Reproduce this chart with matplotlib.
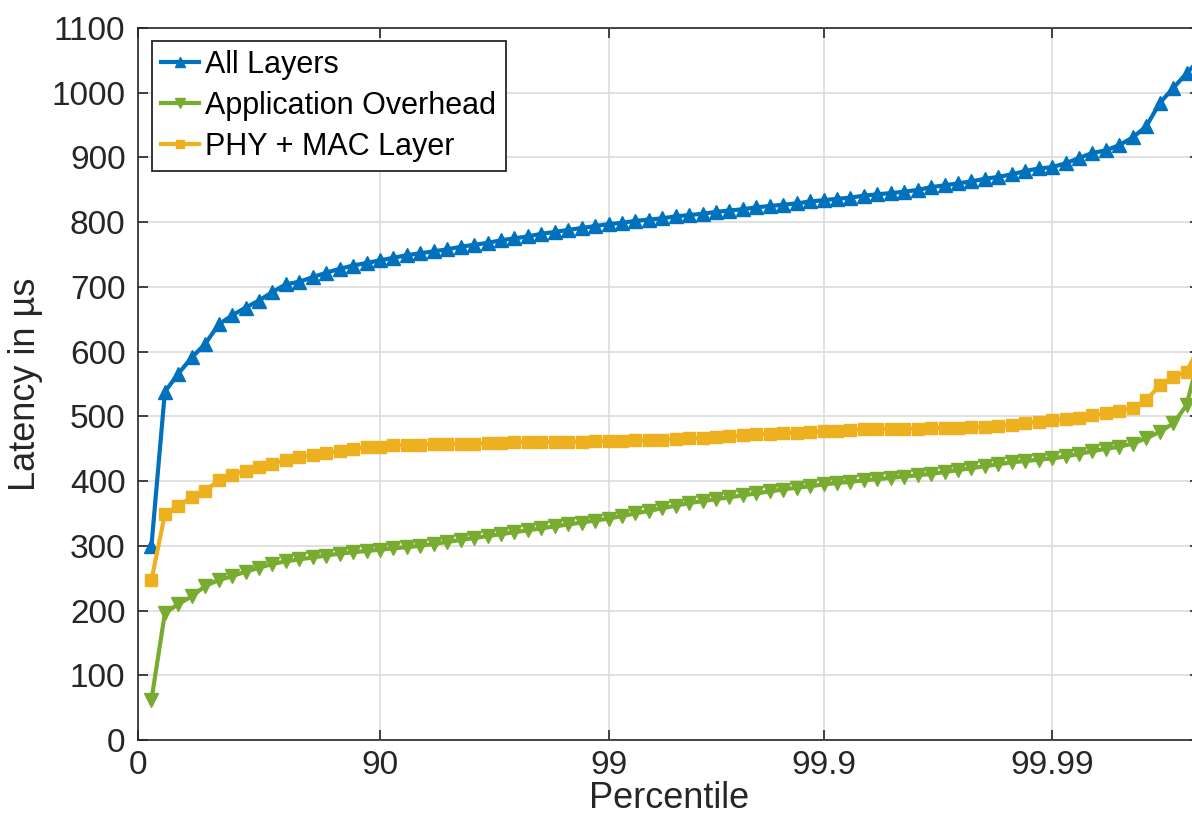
import numpy as np
import matplotlib
matplotlib.use("Agg")
import matplotlib.pyplot as plt

# sample index (one point per percentile step) and the percentile tick labels
idx = np.arange(1, 80)
tick_idx = [0, 18, 35, 51, 68]
tick_labels = ["0", "90", "99", "99.9", "99.99"]

all_layers = [300, 538, 566, 591, 612, 642, 656, 668, 679, 692, 704, 708, 715, 722, 728, 733,
              737, 741, 745, 749, 752, 755, 758, 762, 765, 768, 772, 775, 778, 782, 785, 788,
              791, 794, 797, 799, 802, 804, 806, 809, 811, 813, 816, 818, 820, 823, 825, 827,
              829, 832, 834, 836, 838, 841, 843, 845, 847, 850, 854, 857, 860, 863, 867, 870,
              874, 879, 883, 885, 891, 899, 907, 911, 919, 931, 948, 984, 1007, 1030, 1052]
app_overhead = [62, 196, 210, 222, 238, 247, 253, 260, 266, 272, 276, 279, 282, 285, 288, 290,
                292, 294, 296, 298, 300, 303, 306, 309, 312, 315, 318, 321, 324, 327, 330, 333,
                336, 339, 342, 346, 350, 354, 358, 362, 366, 369, 372, 375, 378, 381, 384, 387,
                390, 392, 395, 397, 399, 401, 403, 405, 407, 409, 411, 414, 417, 420, 423, 426,
                429, 431, 433, 435, 438, 442, 446, 450, 453, 458, 466, 476, 489, 517, 600]
phy_mac = [247, 349, 362, 375, 385, 401, 410, 416, 422, 426, 433, 437, 440, 443, 446, 450,
           452, 453, 455, 456, 456, 457, 457, 458, 458, 459, 459, 460, 460, 460, 461, 461,
           461, 462, 462, 462, 463, 463, 464, 465, 466, 467, 468, 469, 471, 472, 473, 474,
           475, 476, 477, 478, 479, 480, 480, 481, 481, 481, 482, 482, 482, 483, 484, 485,
           487, 489, 492, 494, 496, 498, 502, 505, 508, 513, 525, 548, 561, 569, 610]

plt.rcParams["font.family"] = ["Liberation Sans", "DejaVu Sans"]
dark = "#262626"

fig = plt.figure(figsize=(11.92, 8.26), dpi=100)
ax = fig.add_axes([138 / 1192, 86 / 826, 1062 / 1192, 712 / 826])

ax.plot(idx, all_layers, "-^", color="#0072BD", lw=3, ms=10, label="All Layers")
ax.plot(idx, app_overhead, "-v", color="#77AC30", lw=3, ms=10, label="Application Overhead")
ax.plot(idx, phy_mac, "-s", color="#EDB120", lw=3, ms=8, label="PHY + MAC Layer")

ax.set_xlim(0, 79)
ax.set_ylim(0, 1100)
ax.set_xticks(tick_idx)
ax.set_xticklabels(tick_labels)
ax.set_yticks(np.arange(0, 1101, 100))

ax.grid(True, color="#dcdcdc", lw=1.2)
ax.set_axisbelow(True)
for s in ax.spines.values():
    s.set_color(dark)
    s.set_linewidth(1.2)
ax.tick_params(direction="in", length=7, width=1.2, colors=dark, labelsize=24,
               top=True, right=True, pad=7)
ax.tick_params(axis="y", pad=9)

ax.set_xlabel("Percentile", fontsize=26, color=dark, labelpad=0)
ax.set_ylabel("Latency in µs", fontsize=26, color=dark, labelpad=6)

leg = ax.legend(loc="upper left", bbox_to_anchor=(14 / 1062, 1 - 13 / 712), borderaxespad=0,
                fontsize=22, fancybox=False, framealpha=1, edgecolor=dark,
                handlelength=1.25, handletextpad=0.2, labelspacing=0.36, borderpad=0.3,
                markerscale=0.7)
leg.get_frame().set_linewidth(1.3)
for t in leg.get_texts():
    t.set_color("black")

fig.savefig("out.png", dpi=100)
